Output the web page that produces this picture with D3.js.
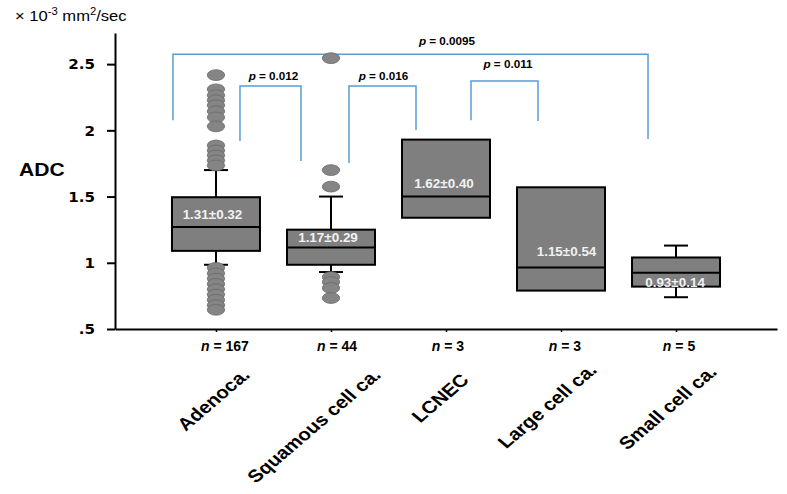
<!DOCTYPE html>
<html><head><meta charset="utf-8">
<script src="https://cdn.jsdelivr.net/npm/d3@7"></script>
<style>body{margin:0;background:#fff}svg{display:block}</style>
</head><body><svg id="c" width="787" height="494"></svg>
<script>
// ---- data ----
const categories = ["Adenoca.", "Squamous cell ca.", "LCNEC", "Large cell ca.", "Small cell ca."];
const nCounts = [167, 44, 3, 3, 5];
const q1 = [1.09, 0.985, 1.34, 0.79, 0.82];
const medians = [1.27, 1.115, 1.50, 0.965, 0.925];
const q3 = [1.495, 1.25, 1.93, 1.57, 1.04];
const whiskerLow = [0.985, 0.93, null, null, 0.74];
const whiskerHigh = [1.70, 1.50, null, null, 1.13];
const means = [1.31, 1.17, 1.62, 1.15, 0.93];
const sds = [0.32, 0.29, 0.40, 0.54, 0.14];
const outliersAdeno = [2.417, 2.31, 2.265, 2.227, 2.189, 2.144, 2.098, 2.03, 1.886, 1.848, 1.811, 1.773, 1.735,
                       0.962, 0.92, 0.88, 0.84, 0.80, 0.76, 0.72, 0.68, 0.645];
const outliersSquamous = [2.545, 1.70, 1.575, 0.892, 0.855, 0.81, 0.734];
const yTicks = [0.5, 1, 1.5, 2, 2.5];
const yTickLabels = [".5", "1", "1.5", "2", "2.5"];
const compFrom = [0, 0, 1, 2];
const compTo = [4, 1, 2, 3];
const pValues = ["0.0095", "0.012", "0.016", "0.011"];
const bracketTop = [2.575, 2.334, 2.334, 2.372];
const bracketLeftEnd = [2.077, 1.919, 1.753, 2.077];
const bracketRightEnd = [1.934, 1.768, 2.002, 2.07];

// ---- layout (pixels) ----
const bracketDxL = [-43, 24, 18, 25];
const bracketDxR = [-28, -30, -30, -23];
const pLabelDx = [36.5, 3, 1, 3.5];
const pLabelDy = [9, 6, 6, 13];
const meanLabelDy = [-2.5, 1.7, 7.4, 13, 15];
const meanLabelDx = [-3.5, -3, -2, 5.5, -1];
const nLabelDx = [9, 6, 2, 4, 3];
const catLabelDx = [35, 51, 24, 37, 42];
const catLabelY = [376, 376, 381, 371, 373];

const svg = d3.select("#c");
const FONT = "'Liberation Sans', Arial, sans-serif";
const SX = 1.17;

const x = d3.scalePoint().domain(categories).range([115, 777]).padding(0.878);
const y = d3.scaleLinear().domain([0.5, 2.735]).range([329, 33]);

function stext(sel, px, py, sx) {
  return sel.append("text").attr("transform", `translate(${px},${py}) scale(${sx},1)`);
}

// brackets
const bc = "#5b9bd5";
const bg = svg.append("g").attr("fill", "none").attr("stroke", bc).attr("stroke-width", 1.5);
compFrom.forEach((f, i) => {
  const xl = x(categories[f]) + bracketDxL[i];
  const xr = x(categories[compTo[i]]) + bracketDxR[i];
  const yt = y(bracketTop[i]);
  bg.append("path").attr("d", `M${xl},${y(bracketLeftEnd[i])}V${yt}H${xr}V${y(bracketRightEnd[i])}`);
  const t = svg.append("text").attr("x", (xl + xr) / 2 + pLabelDx[i]).attr("y", yt - pLabelDy[i])
    .attr("text-anchor", "middle").attr("font-family", FONT).attr("font-weight", "bold").attr("font-size", 11.7);
  t.append("tspan").attr("font-style", "italic").text("p");
  t.append("tspan").text(" = " + pValues[i]);
});

// axes
const yAxis = svg.append("g").attr("transform", "translate(115,0)")
  .call(d3.axisLeft(y).tickValues(yTicks).tickSize(8).tickSizeOuter(0).tickFormat((d, i) => yTickLabels[i]));
yAxis.select(".domain").attr("stroke", "#000").attr("stroke-width", 2);
yAxis.selectAll(".tick line").attr("stroke", "#000").attr("stroke-width", 2);
yAxis.selectAll(".tick text").attr("x", null).attr("dy", "0.36em")
  .attr("transform", `translate(-20,0) scale(1.12,1)`)
  .attr("font-family", "'DejaVu Sans', Verdana, sans-serif").attr("font-weight", "bold").attr("font-size", 13.5).attr("fill", "#000");

const xAxis = svg.append("g").attr("transform", "translate(0,329)")
  .call(d3.axisBottom(x).tickSize(3).tickSizeOuter(0).tickFormat(""));
xAxis.select(".domain").attr("stroke", "#000").attr("stroke-width", 2);
xAxis.selectAll(".tick line").attr("stroke", "#000").attr("stroke-width", 1.5);

// boxes
const boxW = 88, capW = 24;
const gb = svg.append("g");
categories.forEach((c, i) => {
  const cx = x(c);
  if (whiskerHigh[i] != null) {
    gb.append("line").attr("x1", cx).attr("x2", cx).attr("y1", y(q3[i])).attr("y2", y(whiskerHigh[i])).attr("stroke", "#000").attr("stroke-width", 2);
    gb.append("line").attr("x1", cx - capW / 2).attr("x2", cx + capW / 2).attr("y1", y(whiskerHigh[i])).attr("y2", y(whiskerHigh[i])).attr("stroke", "#000").attr("stroke-width", 2);
  }
  if (whiskerLow[i] != null) {
    gb.append("line").attr("x1", cx).attr("x2", cx).attr("y1", y(q1[i])).attr("y2", y(whiskerLow[i])).attr("stroke", "#000").attr("stroke-width", 2);
    gb.append("line").attr("x1", cx - capW / 2).attr("x2", cx + capW / 2).attr("y1", y(whiskerLow[i])).attr("y2", y(whiskerLow[i])).attr("stroke", "#000").attr("stroke-width", 2);
  }
  gb.append("rect").attr("x", cx - boxW / 2).attr("width", boxW).attr("y", y(q3[i])).attr("height", y(q1[i]) - y(q3[i]))
    .attr("fill", "#7f7f7f").attr("stroke", "#000").attr("stroke-width", 2);
  gb.append("line").attr("x1", cx - boxW / 2).attr("x2", cx + boxW / 2).attr("y1", y(medians[i])).attr("y2", y(medians[i]))
    .attr("stroke", "#000").attr("stroke-width", 2);
});

// outliers
const go = svg.append("g");
[[0, outliersAdeno], [1, outliersSquamous]].forEach(([ci, arr]) => {
  go.selectAll(null).data(arr).enter().append("ellipse")
    .attr("cx", x(categories[ci])).attr("cy", d => y(d)).attr("rx", 8.7).attr("ry", 5.4)
    .attr("fill", "#858585").attr("stroke", "#6a6a6a").attr("stroke-width", 0.8);
});

// mean ± sd labels
categories.forEach((c, i) => {
  stext(svg, x(c) + meanLabelDx[i], y(means[i]) + meanLabelDy[i], 1.12)
    .attr("text-anchor", "middle").attr("font-family", FONT).attr("font-weight", "bold").attr("font-size", 12)
    .attr("fill", "#f2f2f2").text(means[i].toFixed(2) + "\u00B1" + sds[i].toFixed(2));
});

// n labels
categories.forEach((c, i) => {
  const t = svg.append("text").attr("x", x(c) + nLabelDx[i]).attr("y", 351).attr("text-anchor", "middle")
    .attr("font-family", FONT).attr("font-weight", "bold").attr("font-size", 14);
  t.append("tspan").attr("font-style", "italic").text("n");
  t.append("tspan").text(" = " + nCounts[i]);
});

// category labels
categories.forEach((c, i) => {
  svg.append("text").attr("transform", `translate(${x(c) + catLabelDx[i]},${catLabelY[i]}) scale(${SX},1) rotate(-45)`)
    .attr("text-anchor", "end").attr("font-family", FONT).attr("font-weight", "bold").attr("font-size", 17.5).text(c);
});

// axis titles
stext(svg, 19, 176, 1.14).attr("font-family", FONT).attr("font-weight", "bold").attr("font-size", 18.5).text("ADC");
const ut = stext(svg, 15, 21, 1.07).attr("font-family", FONT).attr("font-size", 15.5);
ut.append("tspan").text("\u00D7 10");
ut.append("tspan").attr("font-size", 10.5).attr("dy", -6).text("-3");
ut.append("tspan").attr("dy", 6).text(" mm");
ut.append("tspan").attr("font-size", 10.5).attr("dy", -6).text("2");
ut.append("tspan").attr("dy", 6).text("/sec");
</script></body></html>
